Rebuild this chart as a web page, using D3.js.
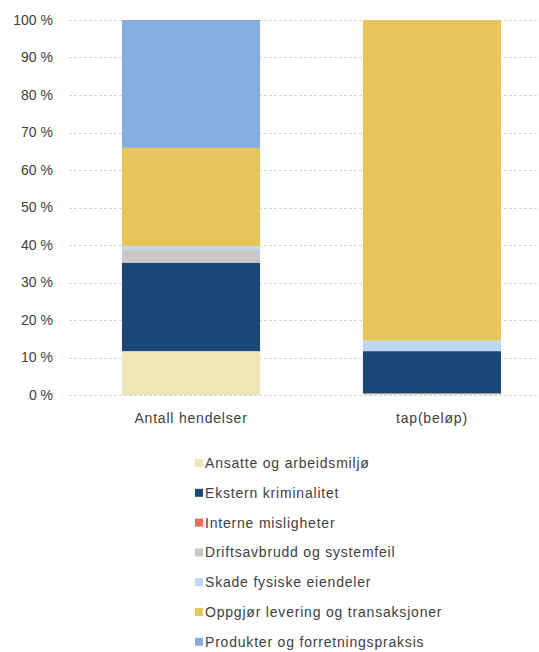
<!DOCTYPE html>
<html>
<head>
<meta charset="utf-8">
<script src="https://cdn.jsdelivr.net/npm/d3@7"></script>
<style>
  body { margin: 0; background: #fff; }
  text { font-family: "Liberation Sans", Arial, sans-serif; fill: #404040; }
</style>
</head>
<body>
<svg id="chart" width="539" height="652"></svg>
<script>
const categories = ["Antall hendelser", "tap(beløp)"];
const seriesNames = [
  "Ansatte og arbeidsmiljø",
  "Ekstern kriminalitet",
  "Interne misligheter",
  "Driftsavbrudd og systemfeil",
  "Skade fysiske eiendeler",
  "Oppgjør levering og transaksjoner",
  "Produkter og forretningspraksis",
];
// share in percent, one value per category
const ansatte = [11.7, 0.4];
const ekstern = [23.6, 11.3];
const interne = [0.0, 0.0];
const drifts = [3.4, 0.0];
const skade = [1.0, 2.8];
const oppgjor = [26.2, 85.5];
const produkter = [34.1, 0.0];
const yTicks = [0, 10, 20, 30, 40, 50, 60, 70, 80, 90, 100];
const colors = ["#efe6b8", "#1b4876", "#e0735a", "#c8c8c8", "#bdd7ee", "#e6c65a", "#87adde"];

const svg = d3.select("#chart");
const margin = { top: 20, right: 0, bottom: 257, left: 69 };
const width = +svg.attr("width");
const height = +svg.attr("height");
const innerW = width - margin.left - margin.right;
const innerH = height - margin.top - margin.bottom;

const g = svg.append("g").attr("transform", `translate(${margin.left}, ${margin.top})`);

const x = d3.scaleBand().domain(categories).range([0, 485]).paddingInner(0.427).paddingOuter(0.22);
const y = d3.scaleLinear().domain([0, 100]).range([innerH, 0]);

// gridlines
g.append("g")
  .selectAll("line")
  .data(yTicks)
  .join("line")
  .attr("x1", 0)
  .attr("x2", innerW)
  .attr("y1", (d) => Math.round(y(d)) + 0.5)
  .attr("y2", (d) => Math.round(y(d)) + 0.5)
  .attr("stroke", "#d6d6d6")
  .attr("stroke-dasharray", "3,2");

// y axis labels
const yAxis = g.append("g").call(d3.axisLeft(y).tickValues(yTicks).tickSize(0).tickPadding(16).tickFormat((d) => d + " %"));
yAxis.select(".domain").remove();
yAxis.selectAll("text").style("font-size", "14px").attr("fill", "#404040");

// stacked bars
const series = [ansatte, ekstern, interne, drifts, skade, oppgjor, produkter];
const rows = categories.map((c, i) => {
  const row = { category: c };
  seriesNames.forEach((s, j) => (row[s] = series[j][i]));
  return row;
});
const stacked = d3.stack().keys(seriesNames)(rows);

g.append("g")
  .selectAll("g")
  .data(stacked)
  .join("g")
  .attr("fill", (d, i) => colors[i])
  .selectAll("rect")
  .data((d) => d)
  .join("rect")
  .attr("x", (d) => x(d.data.category))
  .attr("width", x.bandwidth())
  .attr("y", (d) => y(d[1]))
  .attr("height", (d) => y(d[0]) - y(d[1]));

// category labels
g.append("g")
  .selectAll("text")
  .data(categories)
  .join("text")
  .attr("x", (d) => x(d) + x.bandwidth() / 2)
  .attr("y", innerH + 28)
  .attr("text-anchor", "middle")
  .style("font-size", "14px")
  .style("letter-spacing", "0.8px")
  .text((d) => d);

// legend
const legend = svg.append("g").attr("transform", "translate(195, 463)");
const item = legend
  .selectAll("g")
  .data(seriesNames)
  .join("g")
  .attr("transform", (d, i) => `translate(0, ${i * 29.8})`);
item.append("rect")
  .attr("x", 0)
  .attr("y", -4)
  .attr("width", 8)
  .attr("height", 8)
  .attr("fill", (d, i) => colors[i]);
item.append("text")
  .attr("x", 10)
  .attr("y", 0)
  .attr("dy", "0.35em")
  .style("font-size", "14px")
  .style("letter-spacing", "0.8px")
  .text((d) => d);
</script>
</body>
</html>
